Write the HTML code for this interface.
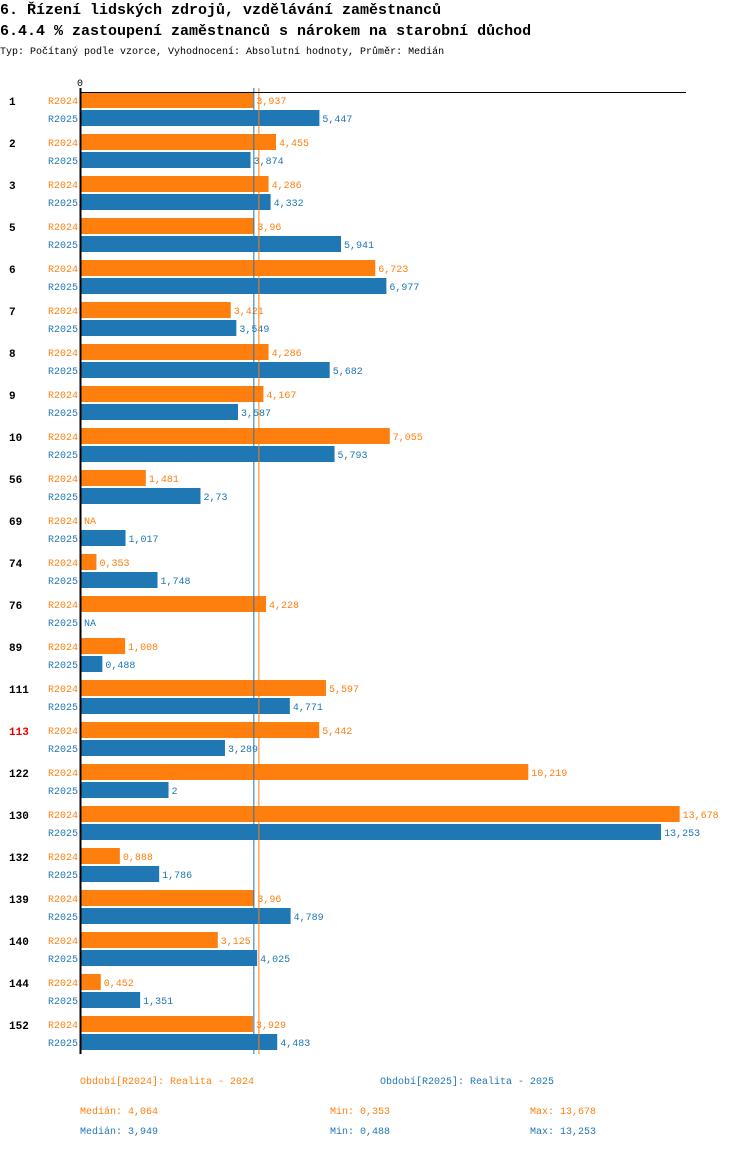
<!DOCTYPE html>
<html><head><meta charset="utf-8"><style>
body{margin:0;background:#fff;width:750px;height:1148px;overflow:hidden;font-family:"Liberation Mono",monospace}
</style></head><body>
<svg width="750" height="1148" style="font-family:'Liberation Mono',monospace">
<text x="0" y="14" font-size="15" font-weight="bold">6. Řízení lidských zdrojů, vzdělávání zaměstnanců</text>
<text x="0" y="35" font-size="15" font-weight="bold">6.4.4 % zastoupení zaměstnanců s nárokem na starobní důchod</text>
<text x="0" y="54" font-size="10">Typ: Počítaný podle vzorce, Vyhodnocení: Absolutní hodnoty, Průměr: Medián</text>
<g id="plot"></g>
<text x="80" y="1084" font-size="10" fill="#ff7f0e">Období[R2024]: Realita - 2024</text>
<text x="380" y="1084" font-size="10" fill="#1f77b4">Období[R2025]: Realita - 2025</text>
<g font-size="10">
<text x="80" y="1114" fill="#ff7f0e">Medián: 4,064</text>
<text x="330" y="1114" fill="#ff7f0e">Min: 0,353</text>
<text x="530" y="1114" fill="#ff7f0e">Max: 13,678</text>
<text x="80" y="1134" fill="#1f77b4">Medián: 3,949</text>
<text x="330" y="1134" fill="#1f77b4">Min: 0,488</text>
<text x="530" y="1134" fill="#1f77b4">Max: 13,253</text>
</g>
</svg>
<script>
const categories=["1","2","3","5","6","7","8","9","10","56","69","74","76","89","111","113","122","130","132","139","140","144","152"];
const r2024=[3.937,4.455,4.286,3.96,6.723,3.421,4.286,4.167,7.055,1.481,null,0.353,4.228,1.008,5.597,5.442,10.219,13.678,0.888,3.96,3.125,0.452,3.929];
const r2025=[5.447,3.874,4.332,5.941,6.977,3.549,5.682,3.587,5.793,2.73,1.017,1.748,null,0.488,4.771,3.289,2,13.253,1.786,4.789,4.025,1.351,4.483];
const medians=[4.064,3.949];
const highlight="113";
const NS="http://www.w3.org/2000/svg";
const g=document.getElementById('plot');
const x0=81, k=43.77;
const xs=v=>x0+v*k;
const fmt=v=>String(v).replace('.',',');
function mk(t,a,p){const e=document.createElementNS(NS,t);for(const n in a)e.setAttribute(n,a[n]);(p||g).appendChild(e);return e;}
const cols=["#ff7f0e","#1f77b4"];
categories.forEach((c,i)=>{
  const top=92+i*42;
  const lab=mk('text',{x:9,y:top+13,'font-size':11,'font-weight':'bold',fill:c===highlight?'#e00':'#000'});
  lab.textContent=c;
  
  
  [r2024[i],r2025[i]].forEach((v,j)=>{
    const y=top+j*18;
    const sl=mk('text',{x:78,y:y+12,'font-size':10,fill:cols[j],'text-anchor':'end'});
    sl.textContent=j?'R2025':'R2024';
    
    
    let end=x0;
    if(v!==null){
      const r=mk('rect',{x:x0,y:y,width:xs(v)-x0,height:16,fill:cols[j]});
      
      
      end=xs(v);
    }
    const t=mk('text',{x:end+3,y:y+12,'font-size':10,fill:cols[j]});
    t.textContent=v===null?'NA':fmt(v);
    
    
  });
});
const bottom=92+categories.length*42-4;
medians.forEach((m,j)=>{
  const l=mk('line',{x1:xs(m),x2:xs(m),y1:88,y2:bottom,stroke:cols[j],'stroke-width':1});
  
  
});
const ax=mk('line',{x1:80,x2:686,y1:92.5,y2:92.5,stroke:'#000','stroke-width':1});


const ay=mk('line',{x1:80.5,x2:80.5,y1:88,y2:bottom,stroke:'#000','stroke-width':2});


const z=mk('text',{x:77,y:86,'font-size':10});
z.textContent='0';


</script>
</body></html>
